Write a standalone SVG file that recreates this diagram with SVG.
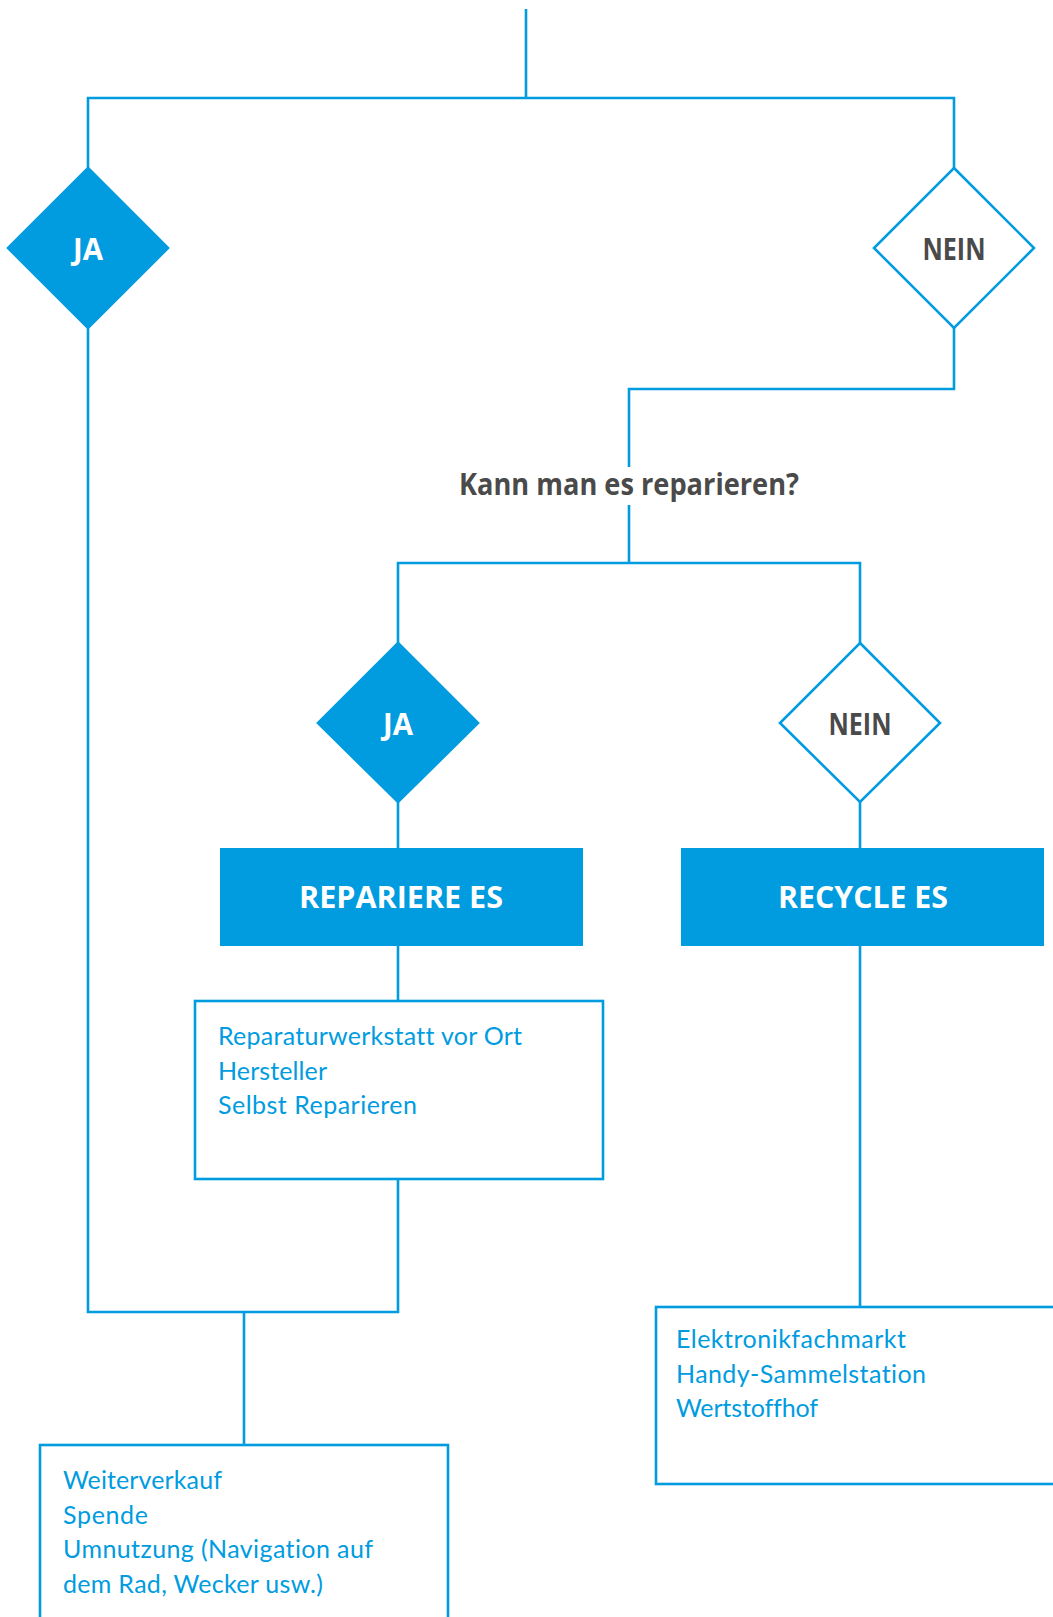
<svg xmlns="http://www.w3.org/2000/svg" width="1053" height="1617" viewBox="0 0 1053 1617">
<style>
.c{fill:none;stroke:#009CDF;stroke-width:2.6}
.df{fill:#009CDF;stroke:#009CDF;stroke-width:2.6}
.do{fill:#fff;stroke:#009CDF;stroke-width:2.6}
.bx{fill:#fff;stroke:#009CDF;stroke-width:2.6}
.hb{fill:#009CDF}
.lw{font-family:"Open Sans","Liberation Sans",sans-serif;font-weight:bold;font-size:30px;fill:#fff;text-anchor:middle}
.lg{font-family:"Open Sans","Liberation Sans",sans-serif;font-weight:bold;font-size:30px;fill:#4A4A4A;text-anchor:middle}
.t{font-family:Lato,"Liberation Sans",sans-serif;font-size:25px;fill:#009CDF;font-variant-ligatures:none}
</style>
<rect width="1053" height="1617" fill="#fff"/>
<g id="connectors">
<path class="c" d="M526 9V98"/>
<path class="c" d="M88 168V98H954V168"/>
<path class="c" d="M88 328V1312H398V1179"/>
<path class="c" d="M954 328V389H629V467"/>
<path class="c" d="M629 505V563"/>
<path class="c" d="M398 643V563H860V643"/>
<path class="c" d="M398 802V848"/>
<path class="c" d="M860 802V848"/>
<path class="c" d="M398 946V1001"/>
<path class="c" d="M860 946V1307"/>
<path class="c" d="M244 1312V1445"/>
</g>
<g id="ja1">
<polygon class="df" points="88,168 168,248 88,328 8,248"/>
<text class="lw" x="88" y="260" textLength="30" lengthAdjust="spacingAndGlyphs">JA</text>
</g>
<g id="nein1">
<polygon class="do" points="954,168 1034,248 954,328 874,248"/>
<text class="lg" x="954" y="260" textLength="63" lengthAdjust="spacingAndGlyphs">NEIN</text>
</g>
<g id="question">
<text class="lg" x="629" y="495" textLength="340" lengthAdjust="spacingAndGlyphs">Kann man es reparieren?</text>
</g>
<g id="ja2">
<polygon class="df" points="398,643 478,723 398,802 318,723"/>
<text class="lw" x="398" y="735" textLength="30" lengthAdjust="spacingAndGlyphs">JA</text>
</g>
<g id="nein2">
<polygon class="do" points="860,643 940,723 860,802 780,723"/>
<text class="lg" x="860" y="735" textLength="63" lengthAdjust="spacingAndGlyphs">NEIN</text>
</g>
<g id="repariere">
<rect class="hb" x="220" y="848" width="363" height="98"/>
<text class="lw" x="401" y="908" textLength="204" lengthAdjust="spacingAndGlyphs">REPARIERE ES</text>
</g>
<g id="recycle">
<rect class="hb" x="681" y="848" width="363" height="98"/>
<text class="lw" x="863" y="908" textLength="170" lengthAdjust="spacingAndGlyphs">RECYCLE ES</text>
</g>
<g id="repair-options">
<rect class="bx" x="195" y="1001" width="408" height="178"/>
<text class="t" x="218" y="1045" textLength="304">Reparaturwerkstatt vor Ort</text>
<text class="t" x="218" y="1080" textLength="109">Hersteller</text>
<text class="t" x="218" y="1114" textLength="199">Selbst Reparieren</text>
</g>
<g id="recycle-options">
<rect class="bx" x="656" y="1307" width="420" height="177"/>
<text class="t" x="676" y="1348" textLength="230">Elektronikfachmarkt</text>
<text class="t" x="676" y="1383" textLength="250">Handy-Sammelstation</text>
<text class="t" x="676" y="1417" textLength="142">Wertstoffhof</text>
</g>
<g id="reuse-options">
<rect class="bx" x="40" y="1445" width="408" height="200"/>
<text class="t" x="63" y="1489" textLength="159">Weiterverkauf</text>
<text class="t" x="63" y="1524" textLength="85">Spende</text>
<text class="t" x="63" y="1558" textLength="310">Umnutzung (Navigation auf</text>
<text class="t" x="63" y="1593" textLength="260">dem Rad, Wecker usw.)</text>
</g>
</svg>
